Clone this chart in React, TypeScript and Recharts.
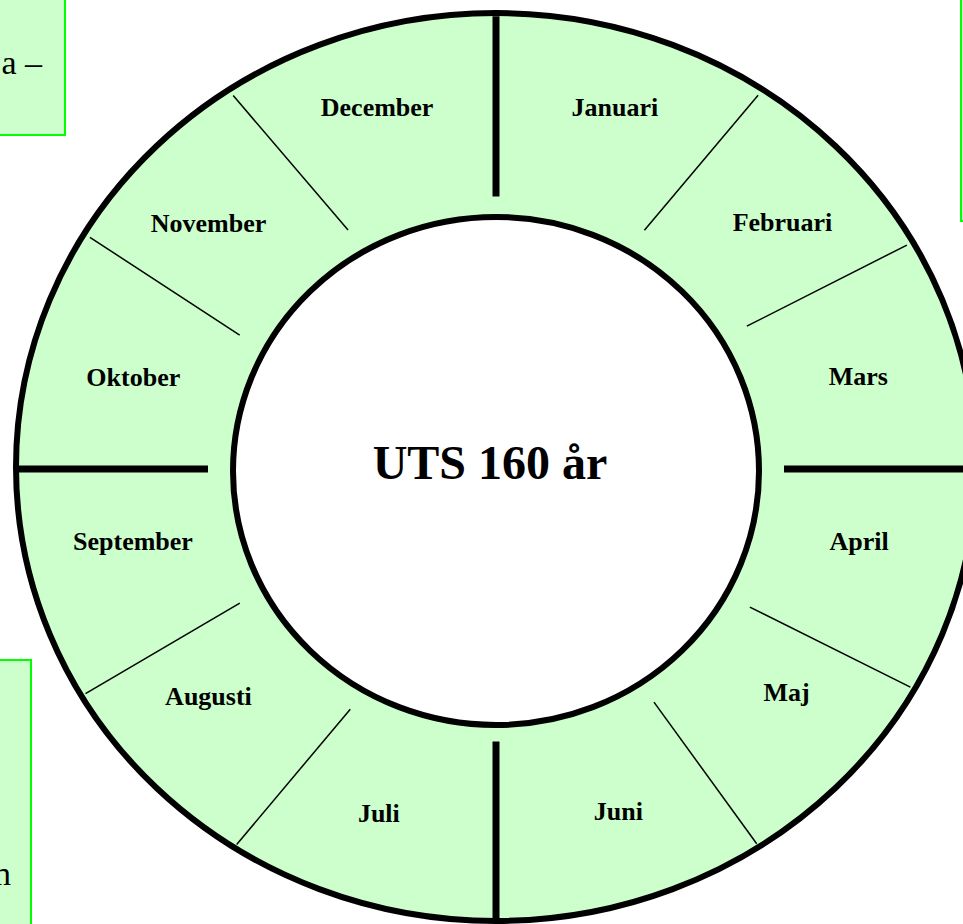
import { PieChart, Pie } from "recharts";

// months around the ring, clockwise from 12 o'clock
const MONTHS = ["Januari", "Februari", "Mars", "April", "Maj", "Juni", "Juli", "Augusti", "September", "Oktober", "November", "December"];
// angular width of each month in degrees (sums to 360)
const SPANS = [32, 27.5, 30.5, 29.5, 27.5, 33, 31.5, 29, 29.5, 30, 28, 32];
// divider at the start of each month: thick quarter line or thin line
const THICK = [true, false, false, true, false, false, true, false, false, true, false, false];
// lean of each divider in degrees (outer end minus inner end)
const TILT = [0, -3.1, -1.1, 0, 0.8, 0.7, 0, -3.3, 1.1, 0, -2.2, 3.3];
const TITLE = "UTS 160 år";

const monthData = MONTHS.map((name, i) => ({ name, value: SPANS[i], thick: THICK[i], tilt: TILT[i] }));
const discData = [{ name: TITLE, value: 1 }];

const RAD = Math.PI / 180;
const OUTER_RATIO = 454 / 480;
const INNER_RATIO = 254 / 263;
const SERIF = "'Liberation Serif', 'Times New Roman', serif";
// the text frame of the drawing sits a little above the ring centre
const TEXT_DY = -9;
const LABEL_R = 0.775;
const LABEL_SQUASH = 0.85;

const pt = (cx: number, cy: number, r: number, ratio: number, f: number, deg: number) =>
  [cx + f * r * Math.cos(deg * RAD), cy - f * r * ratio * Math.sin(deg * RAD)];

const Ellipse = (ratio: number, fill: string) => (p: any) => (
  <ellipse cx={p.cx} cy={p.cy} rx={p.outerRadius} ry={p.outerRadius * ratio} fill={fill} stroke="#000" strokeWidth={6} />
);

function Divider(p: any) {
  const { cx, cy, outerRadius, startAngle, thick, tilt } = p;
  const [x1, y1] = pt(cx, cy, outerRadius, OUTER_RATIO, thick ? 0.6 : 0.61, startAngle - tilt / 2);
  const [x2, y2] = pt(cx, cy, outerRadius, OUTER_RATIO, thick ? 0.997 : 0.988, startAngle + tilt / 2);
  return <line x1={x1} y1={y1} x2={x2} y2={y2} stroke="#000" strokeWidth={thick ? 7 : 1.5} />;
}

function MonthLabel(p: any) {
  const a = Math.atan2(LABEL_SQUASH * Math.sin(p.midAngle * RAD), Math.cos(p.midAngle * RAD));
  const r = LABEL_R * p.outerRadius;
  const x = p.cx + r * Math.cos(a);
  const y = p.cy + TEXT_DY - r * Math.sin(a);
  return (
    <text x={x} y={y} textAnchor="middle" dominantBaseline="central" fontFamily={SERIF} fontWeight="bold" fontSize={26} fill="#000">
      {p.name}
    </text>
  );
}

function TitleLabel(p: any) {
  return (
    <text x={p.cx - 6} y={p.cy + TEXT_DY} textAnchor="middle" dominantBaseline="central" fontFamily={SERIF} fontWeight="bold" fontSize={48} fill="#000">
      {p.name}
    </text>
  );
}

export default function App() {
  return (
    <div style={{ position: "absolute", left: 0, top: 0, width: 963, height: 924, overflow: "hidden", background: "#fff" }}>
      {/* text boxes of the page around the wheel */}
      <svg width={963} height={924} style={{ position: "absolute", left: 0, top: 0 }}>
        <rect x={-20} y={-20} width={85} height={155} fill="#ccffcc" stroke="#00ff00" strokeWidth={2} />
        <text x={42} y={74} textAnchor="end" fontFamily={SERIF} fontSize={34} fill="#000">a –</text>
        <rect x={961} y={-20} width={60} height={241} fill="#ccffcc" stroke="#00ff00" strokeWidth={2} />
        <rect x={-20} y={660} width={51} height={300} fill="#ccffcc" stroke="#00ff00" strokeWidth={2} />
        <text x={11} y={885} textAnchor="end" fontFamily={SERIF} fontSize={34} fill="#000">n</text>
      </svg>
      <div style={{ position: "absolute", left: 0, top: 0 }}>
        <PieChart width={963} height={924} margin={{ top: 0, right: 0, bottom: 0, left: 0 }}>
          <Pie data={discData} dataKey="value" cx={496} cy={467} outerRadius={480} startAngle={90} endAngle={-270}
            shape={Ellipse(OUTER_RATIO, "#ccffcc")} isAnimationActive={false} />
          <Pie data={monthData} dataKey="value" cx={496} cy={469} outerRadius={480} startAngle={90} endAngle={-270}
            shape={Divider} label={MonthLabel} labelLine={false} isAnimationActive={false} />
          <Pie data={discData} dataKey="value" cx={496} cy={471} outerRadius={263} startAngle={90} endAngle={-270}
            shape={Ellipse(INNER_RATIO, "#ffffff")} label={TitleLabel} labelLine={false} isAnimationActive={false} />
        </PieChart>
      </div>
    </div>
  );
}
